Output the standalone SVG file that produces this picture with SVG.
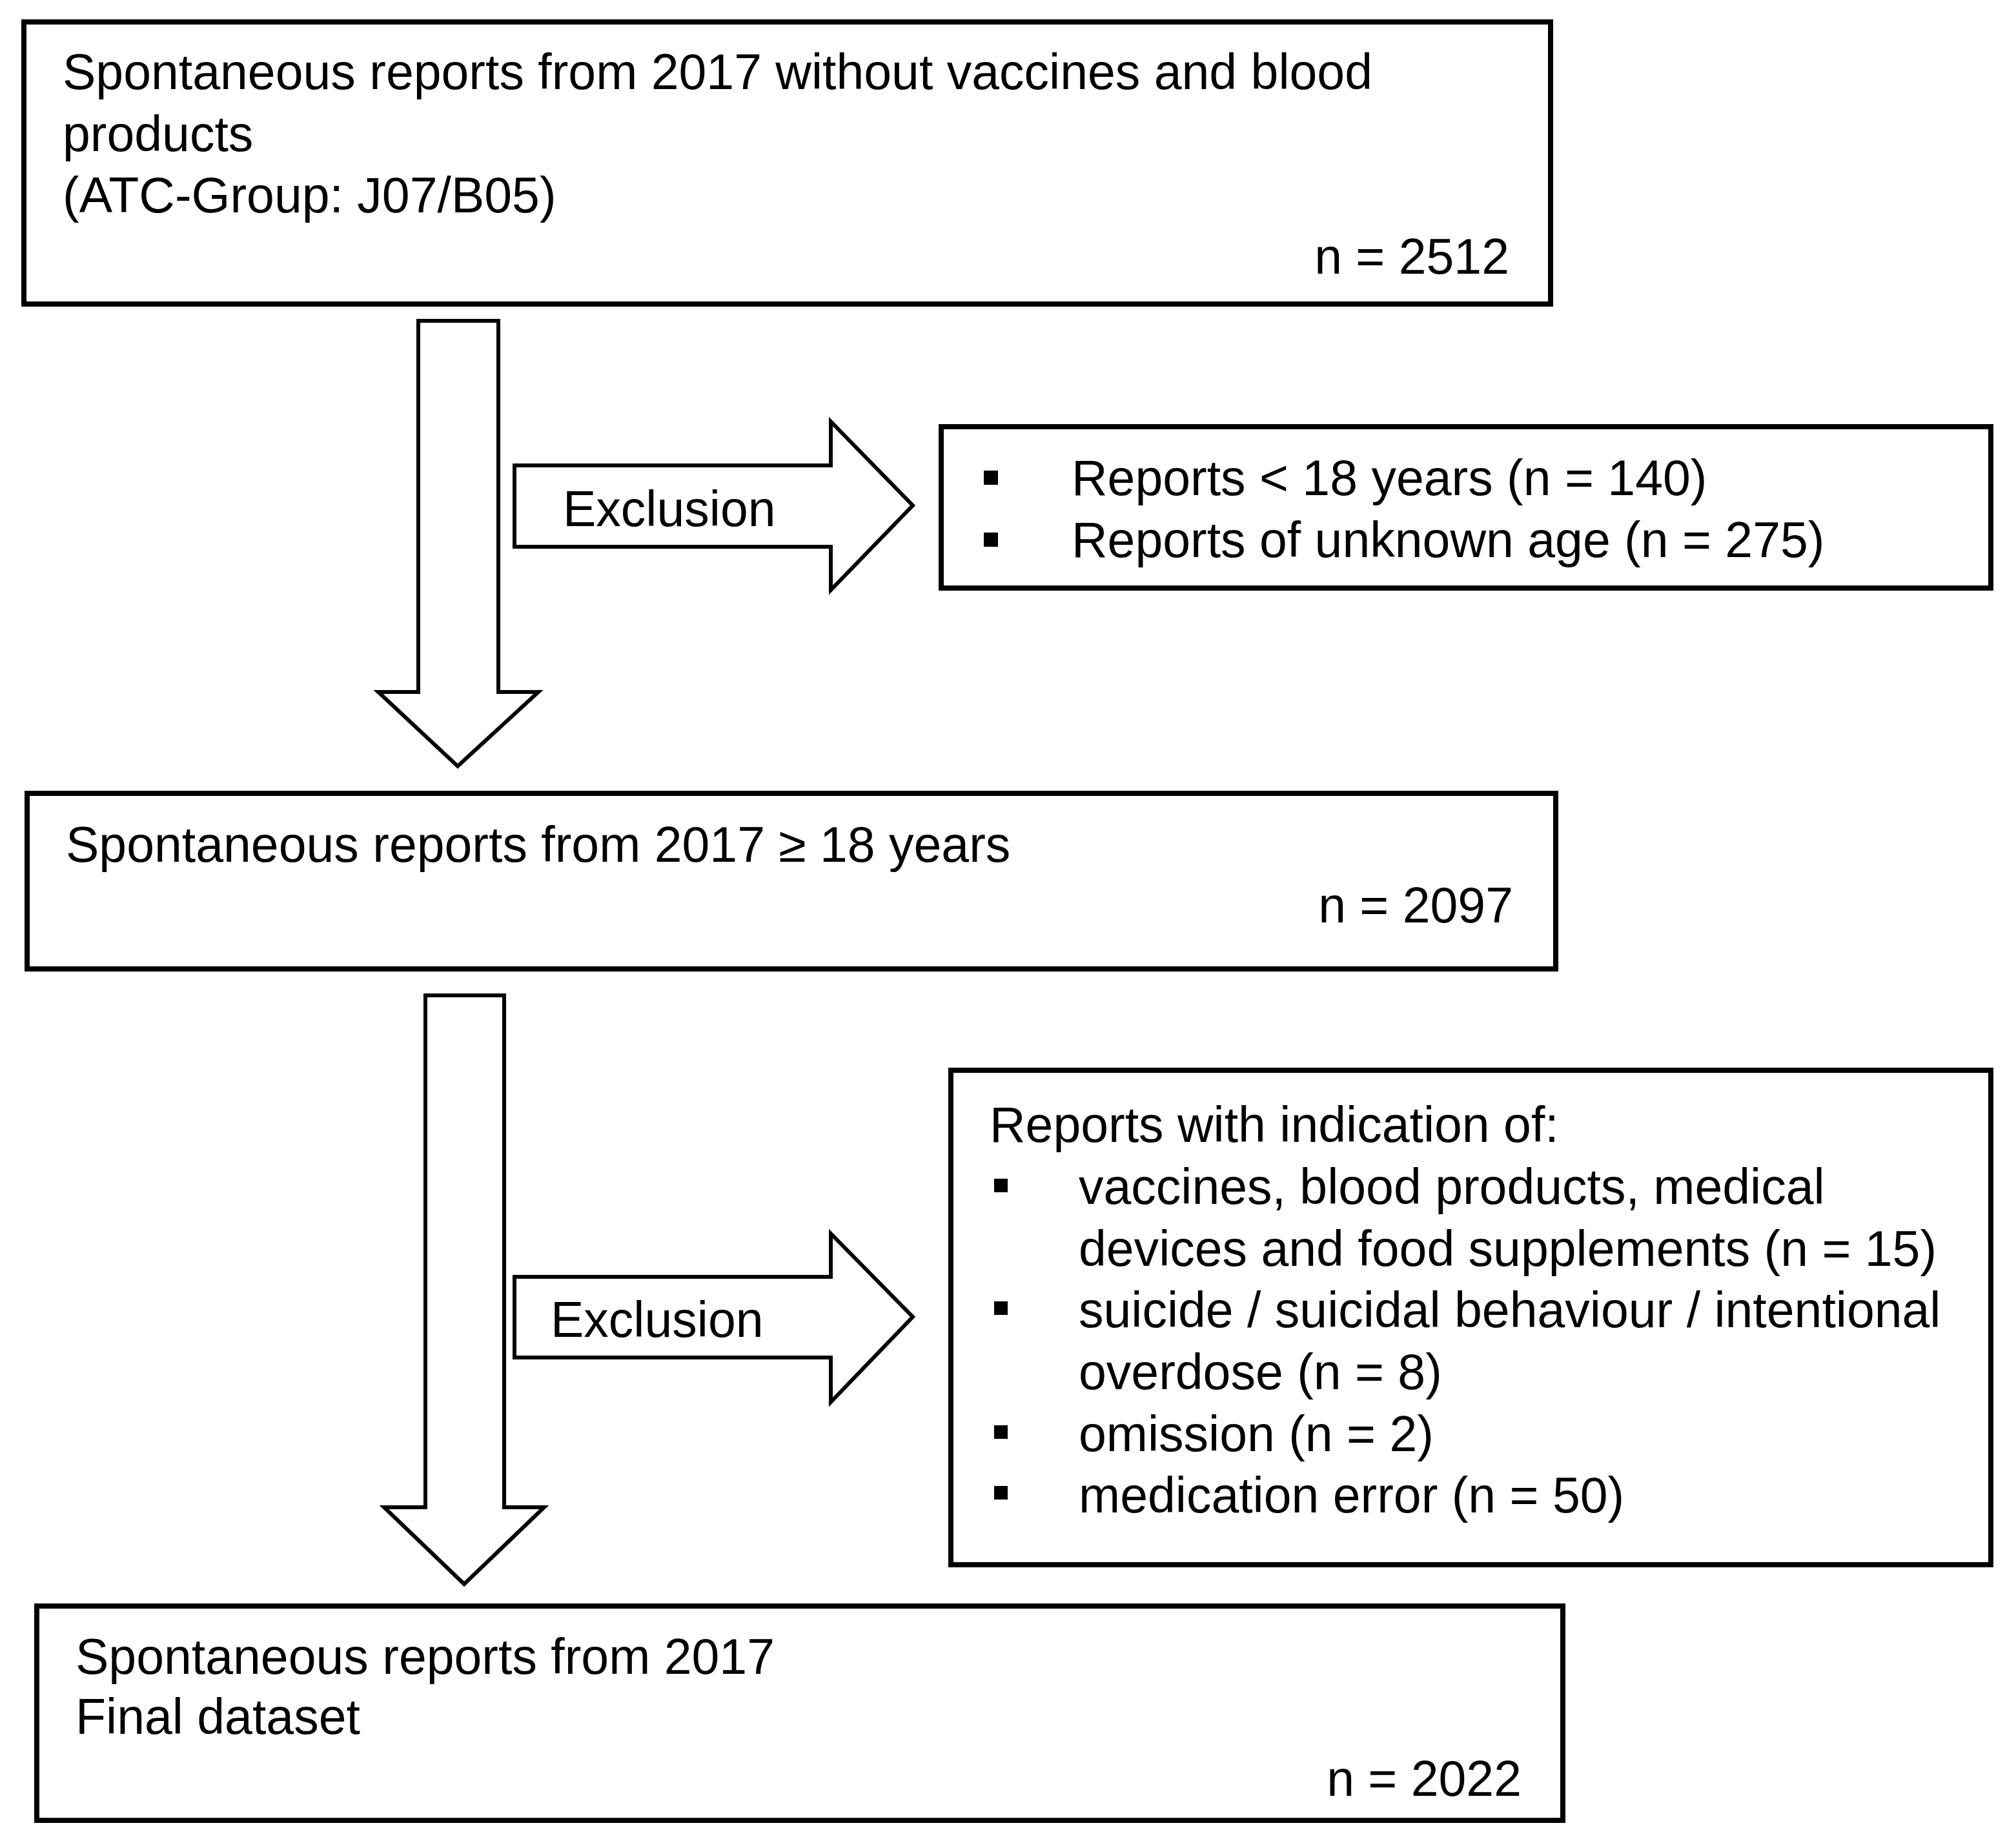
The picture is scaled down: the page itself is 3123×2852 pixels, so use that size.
<svg xmlns="http://www.w3.org/2000/svg" width="3123" height="2852" viewBox="0 0 3123 2852">
<style>
.box{fill:#fff;stroke:#000;stroke-width:8}
.arr{fill:#fff;stroke:#000;stroke-width:6;stroke-linejoin:miter}
text{font-family:"Liberation Sans",Arial,sans-serif;font-size:77px;fill:#000}
.end{text-anchor:end}
.bul{fill:#000}
</style>
<rect width="3123" height="2852" fill="#fff"/>
<g id="connectors">
<polygon id="down1" class="arr" points="648,497 772,497 772,1072 834,1072 709,1187 586,1072 648,1072"/>
<polygon id="excl1" class="arr" points="797,721 1287,721 1287,653 1414,783 1287,914 1287,847 797,847"/>
<polygon id="down2" class="arr" points="659,1542 781,1542 781,2335 843,2335 719,2454 595,2335 659,2335"/>
<polygon id="excl2" class="arr" points="797,1978 1287,1978 1287,1911 1414,2040 1287,2172 1287,2103 797,2103"/>
<text x="872" y="815">Exclusion</text>
<text x="853" y="2071">Exclusion</text>
</g>
<g id="node1">
<rect class="box" x="37" y="34" width="2365" height="437"/>
<text x="97" y="138">Spontaneous reports from 2017 without vaccines and blood</text>
<text x="97" y="234">products</text>
<text x="97" y="329">(ATC-Group: J07/B05)</text>
<text class="end" x="2338" y="424">n = 2512</text>
</g>
<g id="node2">
<rect class="box" x="1458" y="661" width="1626" height="250"/>
<rect class="bul" x="1524" y="729" width="22" height="22"/>
<rect class="bul" x="1524" y="825" width="22" height="22"/>
<text x="1660" y="767">Reports &lt; 18 years (n = 140)</text>
<text x="1660" y="863">Reports of unknown age (n = 275)</text>
</g>
<g id="node3">
<rect class="box" x="42" y="1229" width="2368" height="272"/>
<text x="102" y="1335">Spontaneous reports from 2017 ≥ 18 years</text>
<text class="end" x="2344" y="1429">n = 2097</text>
</g>
<g id="node4">
<rect class="box" x="1473" y="1658" width="1611" height="766"/>
<text x="1533" y="1769">Reports with indication of:</text>
<rect class="bul" x="1540" y="1826" width="21" height="21"/>
<text x="1671" y="1865">vaccines, blood products, medical</text>
<text x="1671" y="1961">devices and food supplements (n = 15)</text>
<rect class="bul" x="1540" y="2016" width="21" height="21"/>
<text x="1671" y="2056">suicide / suicidal behaviour / intentional</text>
<text x="1671" y="2152">overdose (n = 8)</text>
<rect class="bul" x="1540" y="2208" width="21" height="21"/>
<text x="1671" y="2248">omission (n = 2)</text>
<rect class="bul" x="1540" y="2302" width="21" height="21"/>
<text x="1671" y="2343">medication error (n = 50)</text>
</g>
<g id="node5">
<rect class="box" x="57" y="2488" width="2364" height="332"/>
<text x="117" y="2593">Spontaneous reports from 2017</text>
<text x="117" y="2686">Final dataset</text>
<text class="end" x="2357" y="2782">n = 2022</text>
</g>
</svg>
